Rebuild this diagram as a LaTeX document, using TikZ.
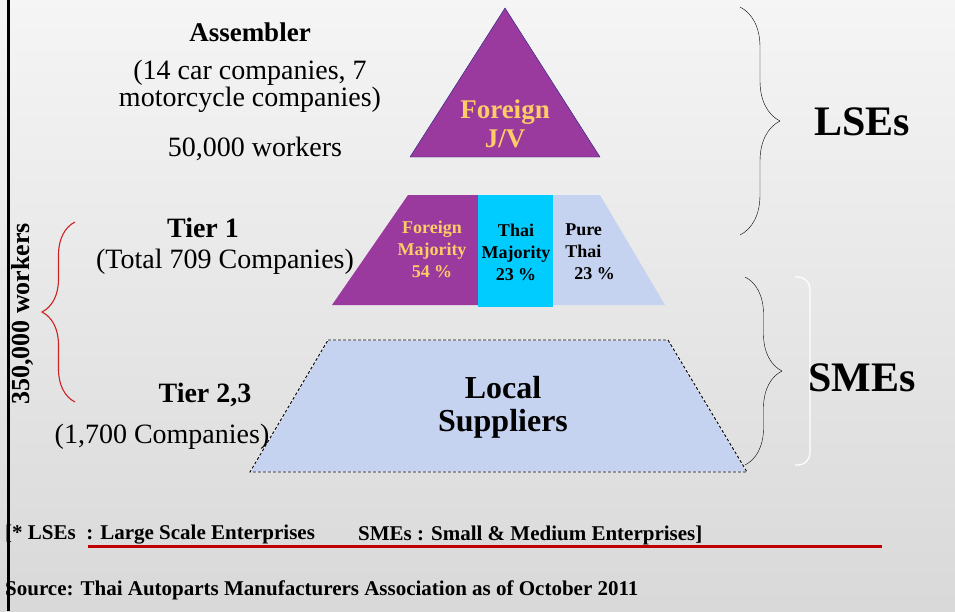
\documentclass[tikz,border=0pt]{standalone}
\usepackage{fontspec}
\setmainfont{Liberation Serif}
\usetikzlibrary{positioning,decorations.pathreplacing}
\definecolor{jvpurple}{HTML}{9A3A9E}
\definecolor{jvgold}{HTML}{FFCC66}
\definecolor{thaicyan}{HTML}{00CCFF}
\definecolor{pale}{HTML}{C6D3F0}
\definecolor{edgeblue}{HTML}{1E2280}
\definecolor{bracered}{HTML}{CC2222}
\definecolor{ruled}{HTML}{C00000}
\newcommand{\fs}[2]{\fontsize{#1}{#2}\selectfont}
\tikzset{
  label/.style={font=\fs{28}{28}, align=center, inner sep=0pt},
  head/.style={font=\fs{28}{28}\bfseries, inner sep=0pt},
  share/.style={font=\fs{18}{22}\bfseries, align=center, inner sep=0pt},
  group/.style={font=\fs{42}{42}\bfseries, inner sep=0pt},
  note/.style={font=\fs{21}{21}\bfseries, anchor=west, inner sep=0pt},
  curly/.style={decorate, decoration={brace, amplitude=#1}}
}
\begin{document}
\begin{tikzpicture}[x=1pt, y=-1pt]
    \useasboundingbox (0,0) rectangle (955,611);
    \shade [top color=white!96!black, bottom color=white!85!black] (0,0) rectangle (955,611);

    % pyramid
    \draw [fill=jvpurple, draw=edgeblue, thin] (505,8) -- (600,157) -- (410,157) -- cycle;
    \node [font=\fs{27}{29}\bfseries, text=jvgold, align=center, inner sep=0pt] (jv) at (505,124) {Foreign\\J/V};

    \fill [jvpurple] (408,195) -- (478,195) -- (478,305) -- (332,305) -- cycle;
    \fill [thaicyan] (478,195) -- (553,195) -- (553,307) -- (478,307) -- cycle;
    \fill [pale] (553,195) -- (600,195) -- (665,305) -- (553,305) -- cycle;
    \node [share, text=jvgold] (foreign) at (432,249) {Foreign\\Majority\\54 \%};
    \node [share] (thai) at (516,252) {Thai\\Majority\\23 \%};
    \node [share, align=left] (pure) at (590,252) {Pure\\Thai\\\ \ 23 \%};

    \draw [fill=pale, draw=white, line width=0.9pt] (328,340) -- (668,340) -- (747,472) -- (250,472) -- cycle;
    \draw [draw=black, line width=0.9pt, dash pattern=on 3pt off 2pt] (328,340) -- (668,340) -- (747,472) -- (250,472) -- cycle;
    \node [font=\fs{32}{33}\bfseries, align=center, inner sep=0pt] (local) at (503,407) {Local\\Suppliers};

    % left texts
    \node [head, font=\fs{27}{27}\bfseries] (assembler) at (250,32) {Assembler};
    \node [label, font=\fs{28}{27}] (makers) at (250,86) {(14 car companies, 7\\motorcycle companies)};
    \node [label] (assemblerjobs) at (255,149) {50,000 workers};
    \node [head] (tierone) at (203,228) {Tier 1};
    \node [label] (tieronecount) at (225,262) {(Total 709 Companies)};
    \node [head] (tiertwo) at (205,395) {Tier 2,3};
    \node [label] (tiertwocount) at (162,437) {(1,700 Companies)};

    % worker brace
    \coordinate (wtop) at (75,222);
    \coordinate (wbot) at (75,402);
    \draw [bracered, line width=1.1pt, curly=33pt] (wbot) -- (wtop);
    \node [font=\fs{26}{26}\bfseries, rotate=90, inner sep=0pt] (workers) at (22,314) {350,000 workers};

    % right braces
    \coordinate (ltop) at (740,7);
    \coordinate (lbot) at (740,235);
    \draw [thin, curly=40pt] (ltop) -- (lbot);
    \node [group] (lse) at (862,122) {LSEs};
    \coordinate (stop) at (745,277);
    \coordinate (sbot) at (745,465);
    \draw [thin, curly=37pt] (stop) -- (sbot);
    \draw [white, line width=1.2pt, rounded corners=12pt] (795,277) -- (810,277) -- (810,465) -- (795,465);
    \node [group] (sme) at (862,378) {SMEs};

    % notes
    \node [note] (lsenote) at (5,535) {[* LSEs\ \ : Large Scale Enterprises};
    \node [note] (smenote) at (358,535) {SMEs : Small \& Medium Enterprises]};
    \draw [ruled, line width=3pt] (88,546) -- (882,546);
    \node [note] (source) at (5,590) {Source: Thai Autoparts Manufacturers Association as of October 2011};

    \draw [line width=3pt] (8,0) -- (8,611);
\end{tikzpicture}
\end{document}
